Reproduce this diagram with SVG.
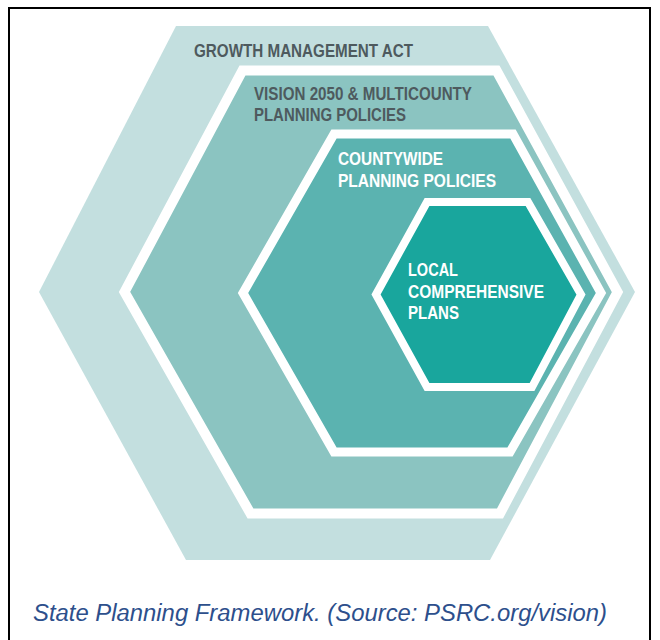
<svg xmlns="http://www.w3.org/2000/svg" width="660" height="640" viewBox="0 0 660 640">
<style>
.hex{stroke:#ffffff;stroke-linejoin:miter}
.lbl{font-family:"Liberation Sans",Arial,sans-serif;font-weight:bold;font-size:17.5px}
.dark{fill:#4e5a5e}
.light{fill:#ffffff}
.cap{font-family:"Liberation Sans",Arial,sans-serif;font-style:italic;fill:#2d4f8c}
</style>
<rect x="0" y="0" width="660" height="640" fill="#ffffff"/>
<path d="M9,645 V8 H650 V645" fill="none" stroke="#000000" stroke-width="2"/>
<g id="gma">
<polygon points="39,292 176,26 488,26 635,292 490,560 186,560" fill="#c3dfdf"/>
<text class="lbl dark" x="194" y="57" textLength="219" lengthAdjust="spacingAndGlyphs">GROWTH MANAGEMENT ACT</text>
</g>
<g id="vision2050">
<polygon class="hex" points="124.5,292 242.5,70.5 496.5,70.5 617.5,292 500,513.5 250.5,513.5" fill="#8bc4c1" stroke-width="10"/>
<text class="lbl dark" x="254" y="100" textLength="218" lengthAdjust="spacingAndGlyphs">VISION 2050 &amp; MULTICOUNTY</text>
<text class="lbl dark" x="254" y="121" textLength="152" lengthAdjust="spacingAndGlyphs">PLANNING POLICIES</text>
</g>
<g id="countywide">
<polygon class="hex" points="243,293 334,134 513,134 601,293 510,452 334,452" fill="#5bb3b0" stroke-width="9"/>
<text class="lbl light" x="338" y="165" textLength="105" lengthAdjust="spacingAndGlyphs">COUNTYWIDE</text>
<text class="lbl light" x="338" y="187" textLength="158" lengthAdjust="spacingAndGlyphs">PLANNING POLICIES</text>
</g>
<g id="local">
<polygon class="hex" points="376,294.5 427,202 528,202 581,294.5 532,387 427,387" fill="#19a69d" stroke-width="8"/>
<text class="lbl light" x="408" y="276" textLength="50" lengthAdjust="spacingAndGlyphs">LOCAL</text>
<text class="lbl light" x="408" y="297.5" textLength="136" lengthAdjust="spacingAndGlyphs">COMPREHENSIVE</text>
<text class="lbl light" x="408" y="318.5" textLength="51" lengthAdjust="spacingAndGlyphs">PLANS</text>
</g>
<g id="connectors"/>
<text class="cap" x="33" y="621" font-size="23.5" textLength="574" lengthAdjust="spacingAndGlyphs">State Planning Framework. (Source: PSRC.org/vision)</text>
</svg>
